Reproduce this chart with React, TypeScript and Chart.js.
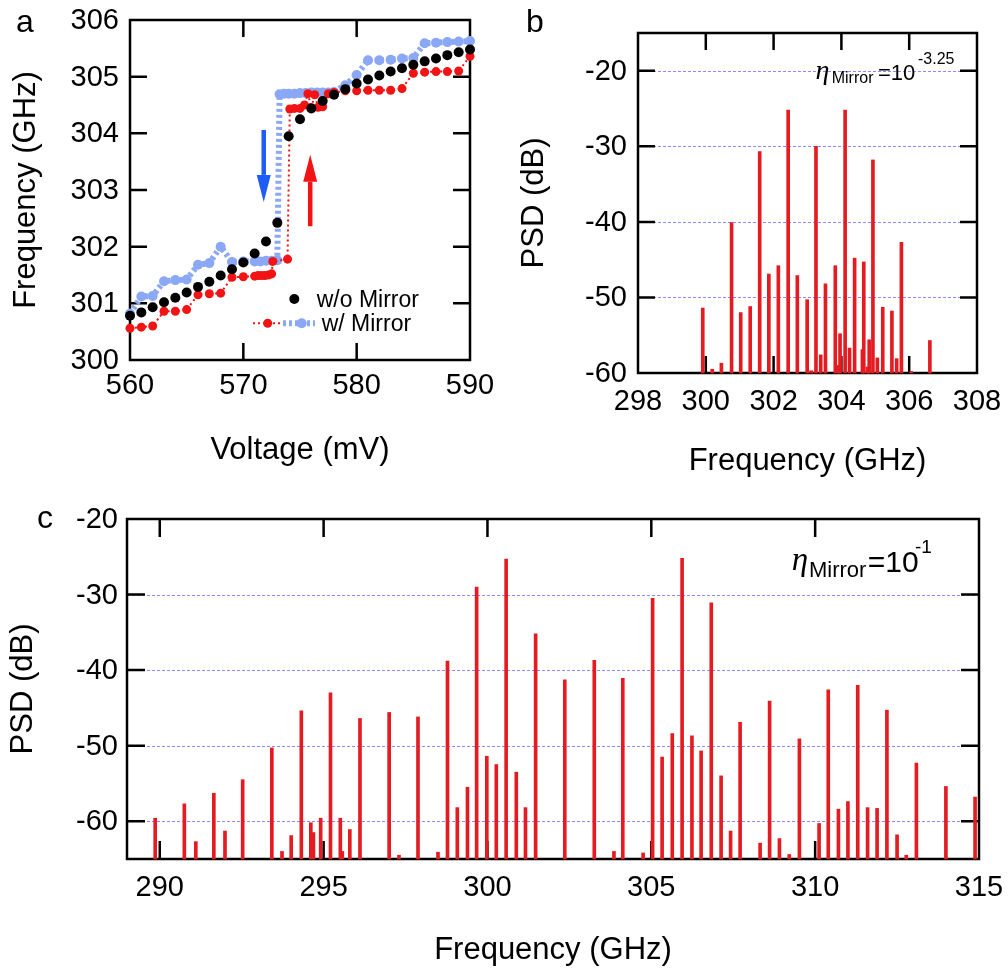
import React, { useEffect, useRef } from "react";
import { Chart, registerables } from "chart.js";

Chart.register(...registerables);

const SANS = '"Liberation Sans", Arial, Helvetica, sans-serif';
const SERIF = '"Liberation Serif", "DejaVu Serif", serif';

// ---------------- Panel a data ----------------
const A_WO_VOLT = [560, 561, 562, 563, 564, 565, 566, 567, 568, 569, 570, 571, 572, 573, 574, 575, 576, 577, 578, 579, 580, 581, 582, 583, 584, 585, 586, 587, 588, 589, 590];
const A_WO_FREQ = [300.78, 300.84, 300.93, 301.02, 301.1, 301.19, 301.29, 301.38, 301.49, 301.6, 301.72, 301.88, 302.09, 302.42, 303.95, 304.25, 304.44, 304.57, 304.68, 304.78, 304.88, 304.95, 305.02, 305.09, 305.15, 305.21, 305.27, 305.32, 305.38, 305.43, 305.48];

const A_RED_VOLT = [560, 561, 562, 563, 564, 565, 566, 567, 568, 569, 570, 571, 571.3, 571.6, 571.9, 572.2, 572.5, 572.6, 573.9, 574.1, 574.5, 575, 575.4, 575.7, 576, 576.3, 576.6, 577, 577.5, 578, 579, 580, 581, 582, 583, 584, 585, 586, 587, 588, 589, 590];
const A_RED_FREQ = [300.56, 300.58, 300.6, 300.86, 300.86, 300.89, 301.15, 301.17, 301.18, 301.46, 301.47, 301.48, 301.49, 301.49, 301.49, 301.5, 301.52, 301.74, 301.78, 304.43, 304.44, 304.44, 304.5, 304.7, 304.45, 304.68, 304.46, 304.47, 304.7, 304.72, 304.75, 304.75, 304.76, 304.76, 304.76, 304.79, 305.06, 305.08, 305.09, 305.09, 305.1, 305.36];

const A_BLUE_VOLT = [560, 561, 562, 563, 564, 565, 566, 567, 568, 569, 570, 571, 571.5, 572, 572.5, 573, 573.2, 573.6, 574, 574.5, 575, 575.5, 576, 576.5, 577, 577.5, 578, 579, 580, 581, 582, 583, 584, 585, 586, 587, 588, 589, 590];
const A_BLUE_FREQ = [300.82, 301.12, 301.13, 301.39, 301.41, 301.42, 301.68, 301.71, 302.0, 301.73, 301.74, 301.74, 301.74, 301.75, 301.75, 301.76, 304.69, 304.7, 304.7, 304.7, 304.71, 304.71, 304.72, 304.72, 304.72, 304.72, 304.73, 304.85, 305.03, 305.29, 305.29, 305.3, 305.32, 305.33, 305.59, 305.6, 305.61, 305.62, 305.63];

const A_X_LABELS = [560, 570, 580, 590];
const A_Y_LABELS = [300, 301, 302, 303, 304, 305, 306];
const A_X_MARKS = [570, 580];
const A_Y_MARKS = [301, 302, 303, 304, 305];

// hysteresis arrows (voltage, from GHz, to GHz)
const A_ARROW_DOWN = [571.8, 304.06, 302.79];
const A_ARROW_UP = [575.9, 302.36, 303.62];

// ---------------- Panel b data ----------------
const B_FREQ = [299.91, 300.19, 300.46, 300.76, 301.03, 301.31, 301.59, 301.86, 302.14, 302.43, 302.7, 302.99, 303.11, 303.25, 303.39, 303.53, 303.82, 303.92, 303.96, 304.11, 304.24, 304.39, 304.62, 304.66, 304.77, 304.82, 304.93, 305.06, 305.22, 305.49, 305.63, 305.77, 306.06, 306.61];
const B_PSD = [-51.4, -59.5, -58.7, -40.1, -52.0, -51.2, -30.7, -46.9, -45.8, -25.2, -47.1, -50.3, -59.7, -30.0, -57.6, -48.2, -45.8, -59.0, -54.8, -25.2, -56.7, -44.8, -56.9, -45.3, -59.2, -55.6, -31.8, -58.0, -51.3, -51.8, -58.1, -42.7, -59.8, -55.7];
const B_X_LABELS = [298, 300, 302, 304, 306, 308];
const B_Y_LABELS = [-60, -50, -40, -30, -20];
const B_X_MARKS = [300, 302, 304, 306];
const B_Y_MARKS = [-50, -40, -30, -20];
const B_GRID = [-50, -40, -30, -20];

// ---------------- Panel c data ----------------
const C_FREQ = [289.86, 290.75, 291.1, 291.65, 291.99, 292.53, 293.42, 293.73, 294.01, 294.32, 294.61, 294.69, 294.91, 295.21, 295.51, 295.57, 295.8, 296.11, 297.0, 297.3, 297.88, 298.49, 298.78, 299.08, 299.39, 299.67, 299.98, 300.27, 300.57, 300.88, 301.16, 301.47, 302.36, 303.26, 303.86, 304.13, 304.75, 305.04, 305.33, 305.64, 305.94, 306.24, 306.52, 306.83, 307.13, 307.42, 307.71, 308.32, 308.61, 308.91, 309.21, 309.52, 310.12, 310.4, 310.71, 311.0, 311.3, 311.6, 311.89, 312.19, 312.5, 312.78, 313.09, 313.99, 314.88];
const C_PSD = [-59.6, -57.7, -62.7, -56.3, -61.3, -54.5, -50.3, -64.0, -61.9, -45.4, -60.2, -61.5, -59.6, -43.0, -59.6, -64.0, -61.1, -46.4, -45.6, -64.5, -46.2, -64.1, -38.8, -58.2, -55.5, -29.0, -51.4, -52.5, -25.3, -53.5, -58.2, -35.2, -41.3, -38.7, -64.0, -41.1, -64.2, -30.5, -51.5, -48.4, -25.2, -48.7, -50.7, -31.1, -54.0, -61.3, -46.9, -62.9, -44.1, -62.3, -64.4, -49.1, -60.3, -42.6, -58.4, -57.4, -42.0, -58.2, -58.3, -45.3, -61.8, -64.5, -52.3, -55.4, -56.8];
const C_X_LABELS = [290, 295, 300, 305, 310, 315];
const C_Y_LABELS = [-60, -50, -40, -30, -20];
const C_X_MARKS = [290, 295, 300, 305, 310];
const C_Y_MARKS = [-60, -50, -40, -30];
const C_GRID = [-60, -50, -40, -30];

// ---------------- colours ----------------
const BLACK = "#000000";
const RED = "#f21414";
const LIGHTBLUE = "#8aa8f5";
const ARROW_BLUE = "#1d5cf7";
const BAR_RED = "#e41c22";
const GRID_COLOR = "rgba(110,110,255,0.8)";

// ---------------- helpers ----------------
function txt(ctx: CanvasRenderingContext2D, s: string, x: number, y: number, font: string, align: CanvasTextAlign = "left") {
  ctx.save();
  ctx.font = font;
  ctx.textAlign = align;
  ctx.textBaseline = "alphabetic";
  ctx.fillStyle = "#000";
  ctx.fillText(s, x, y);
  ctx.restore();
}

function vtxt(ctx: CanvasRenderingContext2D, s: string, x: number, cy: number, font: string) {
  ctx.save();
  ctx.translate(x, cy);
  ctx.rotate(-Math.PI / 2);
  ctx.font = font;
  ctx.textAlign = "center";
  ctx.textBaseline = "alphabetic";
  ctx.fillStyle = "#000";
  ctx.fillText(s, 0, 0);
  ctx.restore();
}

function drawFrame(chart: any, xMarks: number[], yMarks: number[], grid: number[], len: number) {
  const { ctx, chartArea: a, scales } = chart;
  const xs = scales.x;
  const ys = scales.y;
  ctx.save();
  if (grid.length) {
    ctx.strokeStyle = GRID_COLOR;
    ctx.lineWidth = 1;
    ctx.setLineDash([3, 2]);
    for (const v of grid) {
      const py = Math.round(ys.getPixelForValue(v)) + 0.5;
      ctx.beginPath();
      ctx.moveTo(a.left, py);
      ctx.lineTo(a.right, py);
      ctx.stroke();
    }
    ctx.setLineDash([]);
  }
  ctx.strokeStyle = "#000";
  ctx.lineWidth = 2.5;
  ctx.strokeRect(a.left, a.top, a.right - a.left, a.bottom - a.top);
  ctx.beginPath();
  for (const v of xMarks) {
    const px = xs.getPixelForValue(v);
    ctx.moveTo(px, a.bottom);
    ctx.lineTo(px, a.bottom - len);
    ctx.moveTo(px, a.top);
    ctx.lineTo(px, a.top + len);
  }
  for (const v of yMarks) {
    const py = ys.getPixelForValue(v);
    ctx.moveTo(a.left, py);
    ctx.lineTo(a.left + len, py);
    ctx.moveTo(a.right, py);
    ctx.lineTo(a.right - len, py);
  }
  ctx.stroke();
  ctx.restore();
}

function drawTickLabels(chart: any, xLabels: number[], yLabels: number[], yGap: number, xBase: number, size: number) {
  const { ctx, chartArea: a, scales } = chart;
  const font = `${size}px ${SANS}`;
  for (const v of yLabels) {
    const py = scales.y.getPixelForValue(v);
    txt(ctx, String(v), a.left - yGap, py + 9, font, "right");
  }
  for (const v of xLabels) {
    const px = scales.x.getPixelForValue(v);
    txt(ctx, String(v), px, a.bottom + xBase, font, "center");
  }
}

function drawArrow(chart: any, spec: number[], color: string) {
  const { ctx, scales } = chart;
  const x = scales.x.getPixelForValue(spec[0]);
  const y0 = scales.y.getPixelForValue(spec[1]);
  const y1 = scales.y.getPixelForValue(spec[2]);
  const dir = Math.sign(y1 - y0);
  const headL = 27;
  const headW = 14;
  const shaftW = 4.5;
  const yb = y1 - dir * headL;
  ctx.save();
  ctx.fillStyle = color;
  ctx.fillRect(x - shaftW / 2, Math.min(y0, yb), shaftW, Math.abs(yb - y0));
  ctx.beginPath();
  ctx.moveTo(x - headW / 2, yb);
  ctx.lineTo(x + headW / 2, yb);
  ctx.lineTo(x, y1);
  ctx.closePath();
  ctx.fill();
  ctx.restore();
}

function dot(ctx: CanvasRenderingContext2D, x: number, y: number, r: number, color: string) {
  ctx.save();
  ctx.fillStyle = color;
  ctx.beginPath();
  ctx.arc(x, y, r, 0, Math.PI * 2);
  ctx.fill();
  ctx.restore();
}

function seg(ctx: CanvasRenderingContext2D, x0: number, x1: number, y: number, color: string, w: number, dash: number[]) {
  ctx.save();
  ctx.strokeStyle = color;
  ctx.lineWidth = w;
  ctx.setLineDash(dash);
  ctx.beginPath();
  ctx.moveTo(x0, y);
  ctx.lineTo(x1, y);
  ctx.stroke();
  ctx.restore();
}

function pts(xs: number[], ys: number[]) {
  return xs.map((x, i) => ({ x, y: ys[i] }));
}

function sticks(xs: number[], ys: number[], base: number) {
  return xs.map((x, i) => ({ x, y: [base, ys[i]] }));
}

// ---------------- chart configs ----------------
function configA(): any {
  return {
    type: "line",
    data: {
      datasets: [
        {
          label: "w/o Mirror",
          data: pts(A_WO_VOLT, A_WO_FREQ),
          showLine: false,
          pointRadius: 5,
          pointBackgroundColor: BLACK,
          pointBorderWidth: 0,
          clip: false,
        },
        {
          label: "w/ Mirror (up)",
          data: pts(A_RED_VOLT, A_RED_FREQ),
          borderColor: RED,
          borderWidth: 2,
          borderDash: [2, 3],
          pointRadius: 4.5,
          pointBackgroundColor: RED,
          pointBorderWidth: 0,
          tension: 0,
          clip: false,
        },
        {
          label: "w/ Mirror (down)",
          data: pts(A_BLUE_VOLT, A_BLUE_FREQ),
          borderColor: LIGHTBLUE,
          borderWidth: 6,
          borderDash: [3, 3],
          pointRadius: 5,
          pointBackgroundColor: LIGHTBLUE,
          pointBorderWidth: 0,
          tension: 0,
          clip: false,
        },
      ],
    },
    options: {
      responsive: false,
      animation: false,
      devicePixelRatio: 1,
      events: [],
      layout: { padding: { left: 130, top: 20, right: 30, bottom: 120 } },
      plugins: { legend: { display: false }, tooltip: { enabled: false } },
      scales: {
        x: { type: "linear", min: 560, max: 590, display: false },
        y: { type: "linear", min: 300, max: 306, display: false },
      },
    },
    plugins: [
      {
        id: "frameA",
        beforeDatasetsDraw(chart: any) {
          drawFrame(chart, A_X_MARKS, A_Y_MARKS, [], 17);
        },
        afterDraw(chart: any) {
          const ctx = chart.ctx;
          drawTickLabels(chart, A_X_LABELS, A_Y_LABELS, 11, 34, 29);
          const a = chart.chartArea;
          txt(ctx, "Voltage (mV)", (a.left + a.right) / 2, 459, `31px ${SANS}`, "center");
          vtxt(ctx, "Frequency (GHz)", 35, (a.top + a.bottom) / 2, `31px ${SANS}`);
          txt(ctx, "a", 25, 32, `32px ${SANS}`, "center");
          drawArrow(chart, A_ARROW_DOWN, ARROW_BLUE);
          drawArrow(chart, A_ARROW_UP, RED);
          // legend
          dot(ctx, 294.3, 299, 5, BLACK);
          txt(ctx, "w/o Mirror", 316.7, 307, `23px ${SANS}`);
          seg(ctx, 253, 283, 323.3, RED, 2, [2, 3]);
          seg(ctx, 283, 315, 323.3, LIGHTBLUE, 6, [3, 3]);
          dot(ctx, 267.7, 323.3, 4.5, RED);
          dot(ctx, 301.7, 323.3, 5, LIGHTBLUE);
          txt(ctx, "w/ Mirror", 321.7, 331, `23px ${SANS}`);
        },
      },
    ],
  };
}

function configB(): any {
  return {
    type: "bar",
    data: {
      datasets: [
        {
          label: "PSD",
          data: sticks(B_FREQ, B_PSD, -60),
          backgroundColor: BAR_RED,
          borderWidth: 0,
          barThickness: 3,
          grouped: false,
          clip: false,
        },
      ],
    },
    options: {
      responsive: false,
      animation: false,
      devicePixelRatio: 1,
      events: [],
      layout: { padding: { left: 138, top: 33, right: 31, bottom: 117 } },
      plugins: { legend: { display: false }, tooltip: { enabled: false } },
      scales: {
        x: { type: "linear", min: 298, max: 308, display: false, offset: false },
        y: { type: "linear", min: -60, max: -15, display: false },
      },
    },
    plugins: [
      {
        id: "frameB",
        beforeDatasetsDraw(chart: any) {
          drawFrame(chart, B_X_MARKS, B_Y_MARKS, B_GRID, 17);
        },
        afterDraw(chart: any) {
          const ctx = chart.ctx;
          const a = chart.chartArea;
          drawTickLabels(chart, B_X_LABELS, B_Y_LABELS, 11, 37, 29);
          txt(ctx, "Frequency (GHz)", (a.left + a.right) / 2, 470, `31px ${SANS}`, "center");
          vtxt(ctx, "PSD (dB)", 43.3, (a.top + a.bottom) / 2, `31px ${SANS}`);
          txt(ctx, "b", 35, 32, `32px ${SANS}`, "center");
          txt(ctx, "\u03B7", 315.5, 79, `italic 28px ${SERIF}`);
          txt(ctx, "Mirror", 331.7, 82.7, `16px ${SANS}`);
          txt(ctx, "=10", 378, 80, `22px ${SANS}`);
          txt(ctx, "-3.25", 418, 63.5, `16px ${SANS}`);
        },
      },
    ],
  };
}

function configC(): any {
  return {
    type: "bar",
    data: {
      datasets: [
        {
          label: "PSD",
          data: sticks(C_FREQ, C_PSD, -65),
          backgroundColor: BAR_RED,
          borderWidth: 0,
          barThickness: 3,
          grouped: false,
          clip: false,
        },
      ],
    },
    options: {
      responsive: false,
      animation: false,
      devicePixelRatio: 1,
      events: [],
      layout: { padding: { left: 127, top: 29, right: 29, bottom: 111 } },
      plugins: { legend: { display: false }, tooltip: { enabled: false } },
      scales: {
        x: { type: "linear", min: 289, max: 315, display: false, offset: false },
        y: { type: "linear", min: -65, max: -20, display: false },
      },
    },
    plugins: [
      {
        id: "frameC",
        beforeDatasetsDraw(chart: any) {
          drawFrame(chart, C_X_MARKS, C_Y_MARKS, C_GRID, 18);
        },
        afterDraw(chart: any) {
          const ctx = chart.ctx;
          const a = chart.chartArea;
          drawTickLabels(chart, C_X_LABELS, C_Y_LABELS, 9, 37, 29);
          txt(ctx, "Frequency (GHz)", 553, 469, `31px ${SANS}`, "center");
          vtxt(ctx, "PSD (dB)", 31.7, (a.top + a.bottom) / 2, `31px ${SANS}`);
          txt(ctx, "c", 45, 38.3, `32px ${SANS}`, "center");
          txt(ctx, "\u03B7", 791.7, 80, `italic 33px ${SERIF}`);
          txt(ctx, "Mirror", 809, 87.3, `22px ${SANS}`);
          txt(ctx, "=10", 867.7, 81.7, `30px ${SANS}`);
          txt(ctx, "-1", 915, 63, `19px ${SANS}`);
        },
      },
    ],
  };
}

function Panel(props: { left: number; top: number; width: number; height: number; build: () => any }) {
  const ref = useRef<HTMLCanvasElement>(null);
  useEffect(() => {
    const chart = new Chart(ref.current as HTMLCanvasElement, props.build());
    return () => chart.destroy();
  }, []);
  return (
    <canvas
      ref={ref}
      width={props.width}
      height={props.height}
      style={{ position: "absolute", left: props.left, top: props.top, width: props.width, height: props.height }}
    />
  );
}

export default function App() {
  useEffect(() => {
    document.body.style.margin = "0";
    document.body.style.background = "#fff";
  }, []);
  return (
    <div style={{ position: "relative", width: 1008, height: 970, background: "#fff", overflow: "hidden" }}>
      <Panel left={0} top={0} width={500} height={480} build={configA} />
      <Panel left={500} top={0} width={508} height={490} build={configB} />
      <Panel left={0} top={490} width={1008} height={480} build={configC} />
    </div>
  );
}
